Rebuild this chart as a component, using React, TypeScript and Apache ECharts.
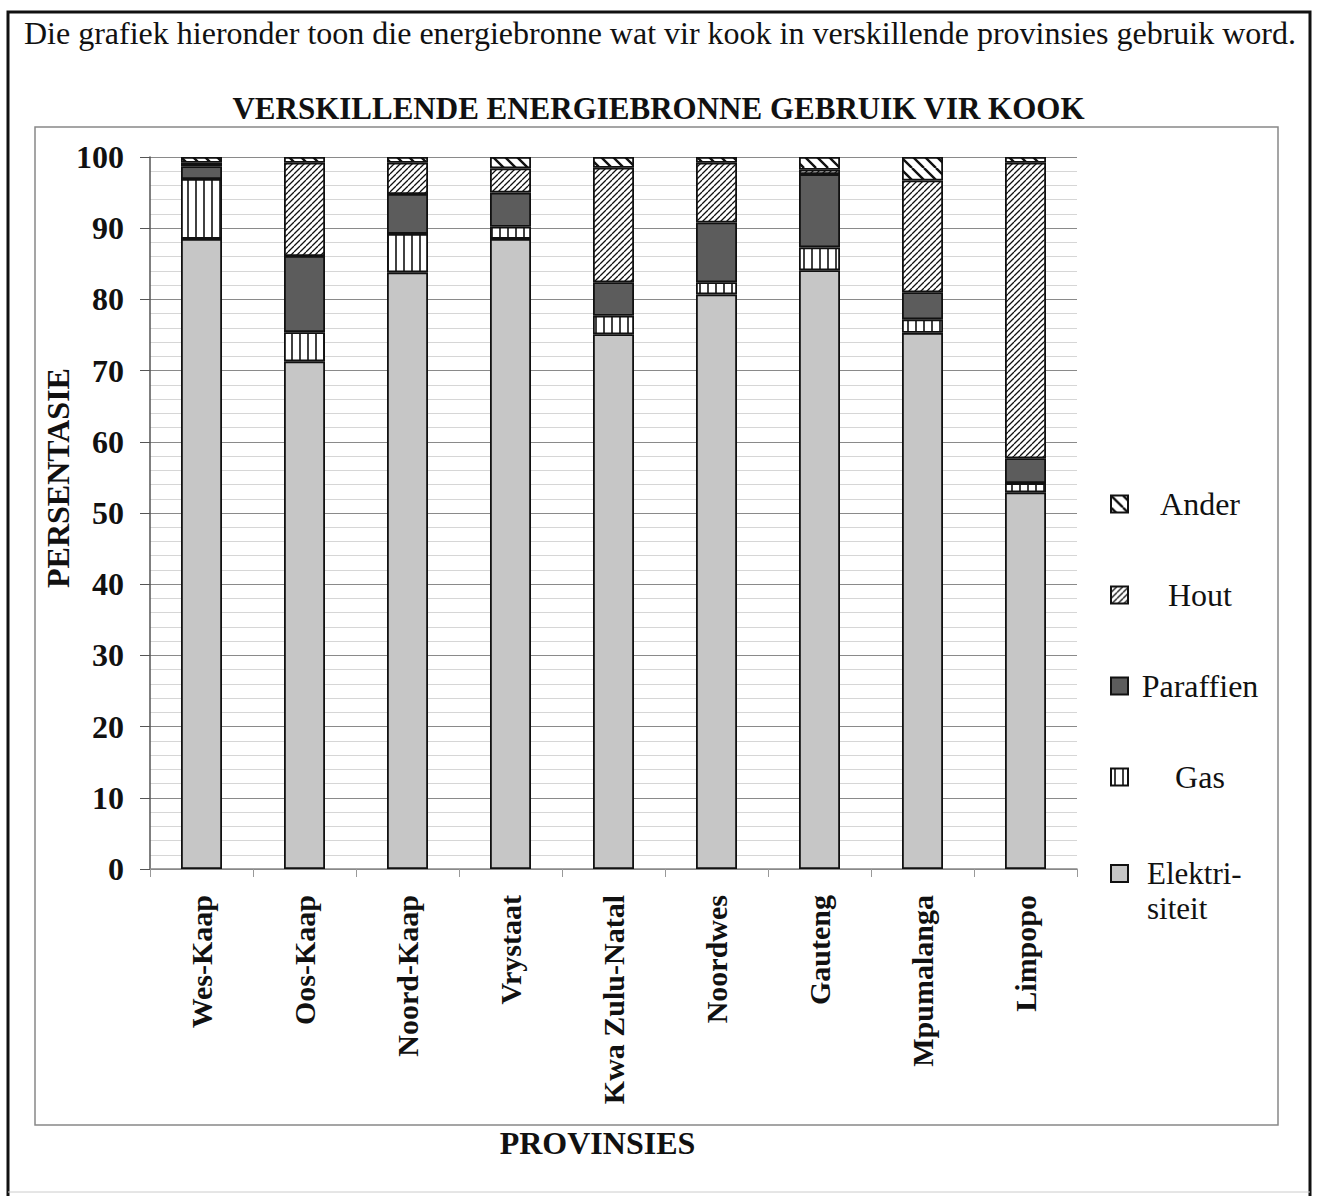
import React, { useEffect, useRef } from 'react';
import * as echarts from 'echarts';

const provinces = ['Wes-Kaap', 'Oos-Kaap', 'Noord-Kaap', 'Vrystaat', 'Kwa Zulu-Natal', 'Noordwes', 'Gauteng', 'Mpumalanga', 'Limpopo'];
const elektrisiteit = [88.5, 71.3, 83.8, 88.5, 75.1, 80.7, 84.1, 75.3, 52.9];
const gas = [8.4, 4.1, 5.4, 1.7, 2.6, 1.7, 3.2, 1.9, 1.3];
const paraffien = [1.8, 10.7, 5.6, 4.8, 4.7, 8.4, 10.3, 3.8, 3.5];
const hout = [0.5, 13.1, 4.4, 3.4, 16.1, 8.4, 0.6, 15.7, 41.5];
const ander = [0.8, 0.8, 0.8, 1.6, 1.5, 0.8, 1.8, 3.3, 0.8];
const seriesNames = ['Elektrisiteit', 'Gas', 'Paraffien', 'Hout', 'Ander'];
const introText = 'Die grafiek hieronder toon die energiebronne wat vir kook in verskillende provinsies gebruik word.';
const chartTitle = 'VERSKILLENDE ENERGIEBRONNE GEBRUIK VIR KOOK';
const yAxisName = 'PERSENTASIE';
const xAxisName = 'PROVINSIES';

const FONT = 'Liberation Serif';

function makePattern(kind: string) {
  const c = document.createElement('canvas');
  let size = 8;
  if (kind === 'gas') size = 8;
  if (kind === 'hout') size = 6;
  if (kind === 'ander') size = 12;
  c.width = size;
  c.height = size;
  const ctx = c.getContext('2d')!;
  ctx.fillStyle = '#ffffff';
  ctx.fillRect(0, 0, size, size);
  ctx.strokeStyle = '#111111';
  if (kind === 'gas') {
    ctx.lineWidth = 1.6;
    ctx.beginPath();
    ctx.moveTo(4, 0);
    ctx.lineTo(4, size);
    ctx.stroke();
  } else if (kind === 'hout') {
    ctx.lineWidth = 1.3;
    ctx.beginPath();
    for (let k = -1; k <= 1; k++) {
      ctx.moveTo(k * size, size);
      ctx.lineTo(k * size + size, 0);
    }
    ctx.stroke();
  } else if (kind === 'ander') {
    ctx.lineWidth = 2.4;
    ctx.beginPath();
    for (let k = -1; k <= 1; k++) {
      ctx.moveTo(k * size, 0);
      ctx.lineTo(k * size + size, size);
    }
    ctx.stroke();
  }
  return { image: c, repeat: 'repeat', imageWidth: size, imageHeight: size };
}

export default function App() {
  const ref = useRef<HTMLDivElement>(null);
  useEffect(() => {
    if (!ref.current) return;
    const chart = echarts.init(ref.current, null, { renderer: 'svg' });
    const colors: any = {
      Elektrisiteit: '#c6c6c6',
      Gas: makePattern('gas'),
      Paraffien: '#5c5c5c',
      Hout: makePattern('hout'),
      Ander: makePattern('ander'),
    };
    const dataMap: any = {
      Elektrisiteit: elektrisiteit,
      Gas: gas,
      Paraffien: paraffien,
      Hout: hout,
      Ander: ander,
    };
    const option: any = {
      animation: false,
      backgroundColor: '#ffffff',
      textStyle: { fontFamily: FONT },
      title: [
        {
          text: introText,
          left: 19,
          top: 12,
          textStyle: { fontFamily: FONT, fontSize: 32, fontWeight: 'normal', color: '#111' },
        },
        {
          text: chartTitle,
          left: 'center',
          top: 88,
          textStyle: { fontFamily: FONT, fontSize: 31, fontWeight: 'bold', color: '#111' },
        },
      ],
      graphic: [
        {
          type: 'polyline',
          silent: true,
          shape: { points: [[8, 1196], [8, 12], [1310, 12], [1310, 1196]] },
          style: { stroke: '#111', lineWidth: 3, fill: null },
        },
        {
          type: 'line',
          silent: true,
          shape: { x1: 8, y1: 1192, x2: 1310, y2: 1192 },
          style: { stroke: '#ccc', lineWidth: 1 },
        },
        {
          type: 'rect',
          silent: true,
          shape: { x: 35, y: 127, width: 1243, height: 998 },
          style: { stroke: '#888', lineWidth: 1.5, fill: null },
        },
      ],
      legend: [
        {
          orient: 'vertical',
          left: 1105,
          top: 483,
          icon: 'rect',
          itemWidth: 17,
          itemHeight: 17,
          itemGap: 59,
          selectedMode: false,
          data: ['Ander', 'Hout', 'Paraffien', 'Gas'],
          formatter: (name: string) => `{c|${name}}`,
          textStyle: {
            fontFamily: FONT,
            rich: {
              c: { width: 134, align: 'center', fontFamily: FONT, fontSize: 32, lineHeight: 32, color: '#111' },
            },
          },
        },
        {
          orient: 'vertical',
          left: 1105,
          top: 816,
          icon: 'rect',
          itemWidth: 17,
          itemHeight: 17,
          selectedMode: false,
          data: ['Elektrisiteit'],
          formatter: () => '\nElektri-\nsiteit',
          textStyle: { fontFamily: FONT, fontSize: 31, lineHeight: 35, color: '#111', padding: [0, 0, 0, 14] },
        },
      ],
      grid: { left: 150, right: 240, top: 157, bottom: 327, containLabel: false },
      xAxis: {
        type: 'category',
        data: provinces,
        name: xAxisName,
        nameLocation: 'middle',
        nameGap: 258,
        nameMoveOverlap: false,
        nameTextStyle: { fontFamily: FONT, fontSize: 32, fontWeight: 'bold', color: '#111', padding: [0, 32, 0, 0] },
        axisLine: { lineStyle: { color: '#888', width: 1.5 } },
        axisTick: { show: true, length: 8, lineStyle: { color: '#999' } },
        axisLabel: { rotate: 90, margin: 26, fontFamily: FONT, fontSize: 30, fontWeight: 'bold', color: '#111' },
      },
      yAxis: {
        type: 'value',
        min: 0,
        max: 100,
        interval: 10,
        name: yAxisName,
        nameLocation: 'middle',
        nameRotate: 90,
        nameGap: 76,
        nameMoveOverlap: false,
        nameTextStyle: { fontFamily: FONT, fontSize: 32, fontWeight: 'bold', color: '#111', padding: [0, 0, 0, 70] },
        axisLine: { show: true, lineStyle: { color: '#555', width: 1.5 } },
        axisTick: { show: true, length: 10, lineStyle: { color: '#555' } },
        axisLabel: { margin: 26, fontFamily: FONT, fontSize: 32, fontWeight: 'bold', color: '#111' },
        splitLine: { show: true, lineStyle: { color: '#8a8a8a', width: 1 } },
        minorTick: { show: false, splitNumber: 5 },
        minorSplitLine: { show: true, lineStyle: { color: '#d6d6d6', width: 1 } },
      },
      series: seriesNames.map((name) => ({
        name,
        type: 'bar',
        stack: 'total',
        barWidth: 41,
        data: dataMap[name],
        itemStyle: { color: colors[name], borderColor: '#111', borderWidth: 1.8 },
        emphasis: { disabled: true },
      })),
    };
    chart.setOption(option);
    return () => chart.dispose();
  }, []);
  return (
    <div
      ref={ref}
      style={{ position: 'fixed', left: 0, top: 0, width: 1317, height: 1196, background: '#fff' }}
    />
  );
}
